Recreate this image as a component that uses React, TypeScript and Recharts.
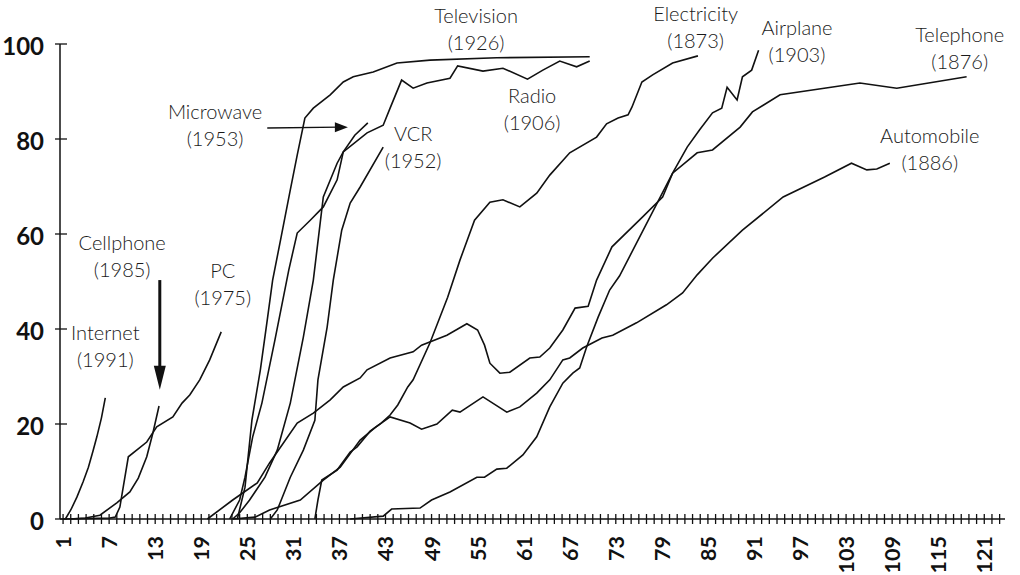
import { LineChart, Line, XAxis, YAxis, ReferenceDot, ReferenceLine } from "recharts";

// [years since invention, percent of households]
type Pt = [number, number];

const internet: Pt[] = [[1.3, 0], [2, 1.9], [2.8, 4.6], [3.6, 7.8], [4.3, 10.9], [4.9, 14.3], [5.4, 17.3], [6, 21.3], [6.5, 25.5]];
const cellphone: Pt[] = [[1.9, 0], [3.9, 0.2], [5.8, 0.8], [8, 3.4], [9.7, 5.7], [10.8, 8.6], [11.9, 13.1], [12.7, 18.1], [13.5, 23.8]];
const pc: Pt[] = [[1, 0], [7.1, 0.2], [7.8, 0.4], [8.4, 2.5], [9.5, 13.1], [11.9, 16.2], [13.2, 19.4], [15.3, 21.5], [16.5, 24.4], [17.5, 26.1], [18.8, 29.3], [20.1, 33.5], [21.6, 39.4]];
const television: Pt[] = [[23.7, 0], [24.7, 6.7], [25.6, 20.8], [26.7, 31.4], [27.6, 41.9], [28.3, 50.3], [29.3, 58.5], [30.6, 69.3], [31.5, 76.6], [32.5, 84.4], [33.6, 86.5], [35.8, 89.3], [37.5, 92], [38.8, 93.1], [41.4, 94.1], [44.5, 96], [48.8, 96.6], [57.5, 97.1], [69.6, 97.3]];
const radio: Pt[] = [[22.7, 0], [24, 4], [24.7, 8.8], [25.7, 17.3], [26.9, 24.4], [28.6, 37.7], [30.4, 52.4], [31.5, 60.2], [33.2, 62.9], [34.9, 65.7], [36.7, 71.4], [37.5, 77.3], [40.6, 81.3], [42.7, 82.9], [43.6, 86.5], [45.1, 92.4], [46.6, 90.7], [48.4, 91.8], [51.4, 92.8], [52.4, 95.4], [55.7, 94.3], [58.3, 94.9], [61.5, 92.6], [63.5, 94.5], [65.7, 96.4], [67.9, 95.2], [69.6, 96.4]];
const microwave: Pt[] = [[23.1, 0], [24, 1.3], [25.3, 4], [27.3, 8.8], [28.9, 14.5], [30.6, 24.4], [32.3, 38.3], [33.6, 50.3], [34.9, 67.8], [36.7, 74.9], [37.5, 77.3], [39, 80.8], [40.7, 83.4]];
const vcr: Pt[] = [[28, 0], [28.9, 1.9], [30.6, 8.8], [32.3, 14.5], [33.8, 20.8], [34.2, 29.3], [35.4, 40.4], [36.2, 50.3], [37.3, 60.8], [38.4, 66.5], [39.7, 69.9], [42.7, 78.3]];
const telephone: Pt[] = [[19.8, 0], [23.1, 4], [26.3, 7.6], [27.9, 11.8], [31.5, 20.2], [33.6, 22.3], [35.8, 25.1], [37.5, 27.8], [39.7, 29.7], [40.6, 31.4], [43.6, 33.9], [46.6, 35.2], [47.7, 36.6], [51, 38.7], [53.6, 41.1], [55, 39.8], [55.9, 36.6], [56.6, 32.8], [57.9, 30.7], [59.2, 30.9], [61.8, 33.9], [63.1, 34.1], [64.4, 36], [66.1, 39.8], [67.7, 44.4], [69.4, 44.8], [70.5, 50.3], [72.5, 57.3], [76.5, 63.6], [79.1, 67.8], [80.4, 72.8], [83.6, 77.1], [85.6, 77.7], [89.2, 82.5], [90.8, 85.7], [94.4, 89.3], [104.8, 91.8], [109.6, 90.7], [118.7, 93.1]];
const automobile: Pt[] = [[23.1, 0], [26, 0.4], [27.9, 1.9], [31.9, 4], [34.9, 8.2], [37.1, 10.9], [39.7, 16.6], [41.6, 19.2], [43.6, 21.5], [46.2, 20.2], [47.7, 18.9], [49.7, 20], [51.7, 22.9], [52.7, 22.5], [55.7, 25.7], [58.8, 22.5], [60.5, 23.6], [62.7, 26.5], [64.4, 29.3], [66.1, 33.5], [67, 33.9], [68.7, 36], [71.2, 38.1], [72.6, 38.7], [75.7, 41.3], [79.6, 45.1], [81.7, 47.6], [83.6, 51.4], [85.6, 54.9], [89.5, 60.8], [94.8, 67.8], [100.2, 72], [103.7, 74.9], [105.7, 73.5], [107, 73.7], [108.7, 74.9]];
const electricity: Pt[] = [[33.8, 0], [34.2, 4], [34.7, 8.2], [36.7, 10.3], [38.4, 14.1], [39.3, 15.2], [41, 18.5], [42.3, 20], [43.6, 21.9], [44.6, 24], [45.9, 27.8], [46.6, 29.3], [48.8, 37.1], [51.1, 46.7], [52.7, 54.5], [54.6, 62.9], [56.6, 66.7], [58.3, 67.2], [60.5, 65.7], [62.7, 68.6], [64.4, 72.4], [67, 77.1], [70.5, 80.4], [71.8, 83.2], [73.3, 84.4], [74.6, 85.1], [75.1, 86.7], [76.4, 92], [77.8, 93.5], [80.4, 96], [83.7, 97.5]];
const airplane: Pt[] = [[38.4, 0], [42.7, 0.6], [43.8, 2.1], [47.5, 2.3], [49, 4], [51.4, 5.7], [54.9, 8.8], [55.9, 8.8], [57.5, 10.5], [58.8, 10.7], [60.9, 13.5], [62.7, 17.3], [64.4, 23.6], [66.1, 28.6], [67.4, 30.7], [68.3, 31.8], [69.2, 36.2], [70.7, 42.5], [72.2, 48.2], [73.5, 51.2], [80.4, 72.8], [82.3, 78.3], [83.9, 81.9], [85.6, 85.5], [86.8, 86.5], [87.5, 90.9], [88.8, 88.2], [89.5, 93.1], [90.7, 94.5], [91.6, 98.7]];

const allSeries: Pt[][] = [internet, cellphone, pc, television, radio, microwave, vcr, telephone, automobile, electricity, airplane];

const xTicks = Array.from({ length: 123 }, (_, i) => i + 1);
const xTickLabels = [1, 7, 13, 19, 25, 31, 37, 43, 49, 55, 61, 67, 73, 79, 85, 91, 97, 103, 109, 115, 121];
const yTicks = [0, 20, 40, 60, 80, 100];

// label anchors (centre, first baseline) in data units
const labelSpots = [
  { name: "Television", year: "(1926)", x: 54.8, y: 104.4 },
  { name: "Microwave", year: "(1953)", x: 20.8, y: 84.2 },
  { name: "VCR", year: "(1952)", x: 46.6, y: 79.6 },
  { name: "Radio", year: "(1906)", x: 62.1, y: 87.6 },
  { name: "Electricity", year: "(1873)", x: 83.4, y: 104.8 },
  { name: "Airplane", year: "(1903)", x: 96.6, y: 101.9 },
  { name: "Telephone", year: "(1876)", x: 117.8, y: 100.4 },
  { name: "Automobile", year: "(1886)", x: 113.9, y: 79.2 },
  { name: "Cellphone", year: "(1985)", x: 8.7, y: 56.6 },
  { name: "PC", year: "(1975)", x: 21.8, y: 50.7 },
  { name: "Internet", year: "(1991)", x: 6.5, y: 37.7 },
];

const FONT = "'Gill Sans', Lato, 'Open Sans', sans-serif";
const INK = "#111";

function XTick(props: any) {
  const { x, y, payload } = props;
  const v = payload.value;
  const ly = y + 17;
  return (
    <g>
      <line x1={x} x2={x} y1={y - 5} y2={y + 5} stroke={INK} strokeWidth={1.3} />
      {xTickLabels.includes(v) && (
        <text
          x={x}
          y={ly}
          transform={`rotate(-90 ${x} ${ly})`}
          textAnchor="end"
          dominantBaseline="central"
          fontFamily={FONT}
          fontWeight={700}
          fontSize={21.5}
          fill={INK}
        >
          {v}
        </text>
      )}
    </g>
  );
}

function YTick(props: any) {
  const { x, y, payload } = props;
  return (
    <g>
      <line x1={x - 5} x2={x + 7} y1={y} y2={y} stroke={INK} strokeWidth={1.3} />
      <text x={x - 16} y={y + 11} textAnchor="end" fontFamily={FONT} fontWeight={700} fontSize={24} fill={INK}>
        {payload.value}
      </text>
    </g>
  );
}

function SeriesLabel(props: any) {
  const { cx, cy, name, year } = props;
  return (
    <g fontFamily={FONT} fontSize={20} fontWeight={300} fill="#1a1a1a" textAnchor="middle">
      <text x={cx} y={cy}>{name}</text>
      <text x={cx} y={cy + 27}>{year}</text>
    </g>
  );
}

function HeadRight(props: any) {
  const { cx, cy } = props;
  return <path d={`M${cx},${cy} L${cx - 13},${cy - 5} L${cx - 13},${cy + 5} Z`} fill={INK} />;
}

function HeadDown(props: any) {
  const { cx, cy } = props;
  return <path d={`M${cx},${cy} L${cx - 6},${cy - 24} L${cx + 6},${cy - 24} Z`} fill={INK} />;
}

export default function App() {
  return (
    <div style={{ position: "absolute", left: 0, top: 0, background: "#fff" }}>
      <LineChart width={1020} height={575} margin={{ top: 44, right: 15, bottom: 0, left: 0 }}>
        <XAxis
          type="number"
          dataKey="x"
          domain={[0.6, 123.7]}
          ticks={xTicks}
          interval={0}
          allowDataOverflow
          height={56}
          tickSize={0}
          tickMargin={0}
          tickLine={false}
          tick={<XTick />}
          axisLine={{ stroke: INK, strokeWidth: 1.5 }}
        />
        <YAxis
          type="number"
          domain={[0, 100]}
          ticks={yTicks}
          interval={0}
          width={60}
          tickSize={0}
          tickMargin={0}
          tickLine={false}
          tick={<YTick />}
          axisLine={{ stroke: INK, strokeWidth: 1.5 }}
        />
        {allSeries.map((pts, i) => (
          <Line
            key={i}
            data={pts.map(([x, y]) => ({ x, y }))}
            dataKey="y"
            type="linear"
            stroke={INK}
            strokeWidth={1.6}
            dot={false}
            activeDot={false}
            isAnimationActive={false}
          />
        ))}
        <ReferenceLine segment={[{ x: 27.6, y: 82.3 }, { x: 37, y: 82.5 }]} stroke={INK} strokeWidth={1.5} ifOverflow="visible" />
        <ReferenceDot x={38.1} y={82.5} r={0} ifOverflow="visible" shape={(p: any) => <HeadRight {...p} />} />
        <ReferenceLine segment={[{ x: 13.6, y: 50.3 }, { x: 13.6, y: 30 }]} stroke={INK} strokeWidth={3} ifOverflow="visible" />
        <ReferenceDot x={13.6} y={27.2} r={0} ifOverflow="visible" shape={(p: any) => <HeadDown {...p} />} />
        {labelSpots.map((s) => (
          <ReferenceDot
            key={s.name}
            x={s.x}
            y={s.y}
            r={0}
            ifOverflow="visible"
            shape={(p: any) => <SeriesLabel {...p} name={s.name} year={s.year} />}
          />
        ))}
      </LineChart>
    </div>
  );
}
